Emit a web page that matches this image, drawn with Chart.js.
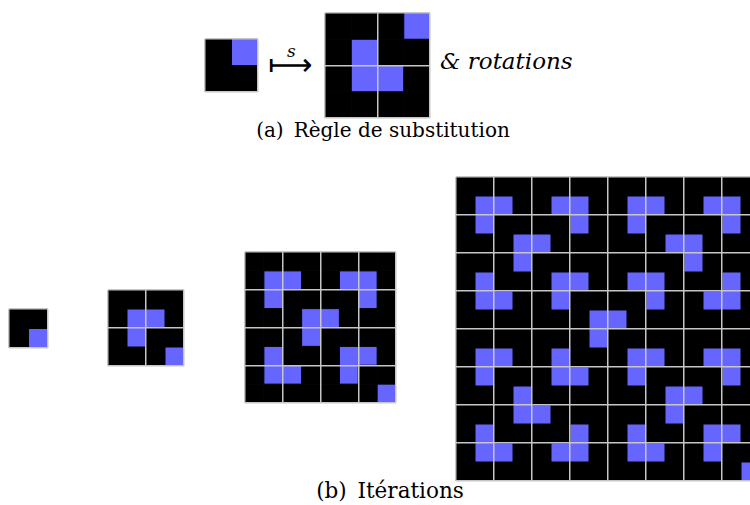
<!DOCTYPE html>
<html lang="fr">
<head>
<meta charset="utf-8">
<title>Règle de substitution</title>
<script src="https://cdn.jsdelivr.net/npm/chart.js@4.4.1/dist/chart.umd.min.js"></script>
<style>
    html, body { margin: 0; padding: 0; background: #fff; }
    #page { position: relative; width: 750px; height: 505px; overflow: hidden; }
    #page canvas { position: absolute; }
    .label {
        position: absolute;
        line-height: 1;
        white-space: nowrap;
        color: #000;
        font-family: "DejaVu Serif", "Liberation Serif", serif;
    }
    .italic { font-style: italic; }
    .caption { width: 400px; text-align: center; font-size: 20px; }
</style>
</head>
<body>
<div id="page">
    <div class="label italic" style="left:287px; top:43px; font-size:17px;">s</div>
    <div class="label" style="left:268px; top:49px; font-size:31px; font-family:'DejaVu Sans', sans-serif;">⟼</div>
    <div class="label italic" style="left:440px; top:50px; font-size:23px;">&amp; rotations</div>
    <div class="label caption" style="left:183px; top:120px;">(a)&ensp;Règle de substitution</div>
    <div class="label caption" style="left:190px; top:480px; font-size:21.5px;">(b)&ensp;Itérations</div>
</div>
<script>
// 1 = blue cell, 0 = black cell, rows top to bottom
const ruleFrom = ['01', '00'];
const ruleTo = ['0001', '0100', '0110', '0000'];

const iteration1 = ['00', '01'];
const iteration2 = ['0000', '0110', '0100', '0001'];
const iteration3 = [
    '00000000',
    '01100110',
    '01000010',
    '00011000',
    '00010000',
    '01000110',
    '01100100',
    '00000001'
];
const iteration4 = [
    '0000000000000000',
    '0110011001100110',
    '0100001001000010',
    '0001100000011000',
    '0001000000001000',
    '0100011001100010',
    '0110010000100110',
    '0000000110000000',
    '0000000100000000',
    '0110010001100110',
    '0100011001000010',
    '0001000000011000',
    '0001100000010000',
    '0100001001000110',
    '0110011001100100',
    '0000000000000001'
];

const blue = '#6666ff';
const black = '#000000';
const lineColor = '#c6c6c6';

// where each grid sits on the page (px)
const panels = [
    { grid: ruleFrom, left: 205, top: 39, size: 53 },
    { grid: ruleTo, left: 325, top: 13, size: 105 },
    { grid: iteration1, left: 9, top: 309, size: 39 },
    { grid: iteration2, left: 108, top: 290, size: 76 },
    { grid: iteration3, left: 245, top: 252, size: 151 },
    { grid: iteration4, left: 456, top: 177, size: 304 }
];

function cells(grid, value) {
    const pts = [];
    grid.forEach((row, r) => {
        [...row].forEach((v, c) => {
            if (v === value) pts.push({ x: c + 0.5, y: r + 0.5 });
        });
    });
    return pts;
}

// a 'rect' point of radius r is a square of side r * sqrt(2)
function cellRadius(ctx) {
    const sx = ctx.chart.scales.x;
    return (sx.getPixelForValue(1) - sx.getPixelForValue(0)) / Math.SQRT2;
}

function axis(n, reverse) {
    return {
        type: 'linear',
        min: 0,
        max: n,
        reverse: reverse,
        ticks: { display: false, stepSize: 2 },
        grid: { color: lineColor, lineWidth: 1.5, drawTicks: false, z: 1 },
        border: { display: false }
    };
}

const page = document.getElementById('page');

panels.forEach(p => {
    const n = p.grid.length;
    const canvas = document.createElement('canvas');
    canvas.width = p.size + 2;
    canvas.height = p.size + 2;
    canvas.style.left = (p.left - 1) + 'px';
    canvas.style.top = (p.top - 1) + 'px';
    page.appendChild(canvas);

    new Chart(canvas, {
        type: 'scatter',
        data: {
            datasets: [
                { data: cells(p.grid, '0'), backgroundColor: black, borderColor: black, clip: 0 },
                { data: cells(p.grid, '1'), backgroundColor: blue, borderColor: blue, clip: 0 }
            ]
        },
        options: {
            responsive: false,
            animation: false,
            events: [],
            layout: { padding: 1 },
            elements: {
                point: { pointStyle: 'rect', radius: cellRadius, hoverRadius: cellRadius, borderWidth: 1 }
            },
            plugins: {
                legend: { display: false },
                tooltip: { enabled: false }
            },
            scales: {
                x: axis(n, false),
                y: axis(n, true)
            }
        }
    });
});
</script>
</body>
</html>
